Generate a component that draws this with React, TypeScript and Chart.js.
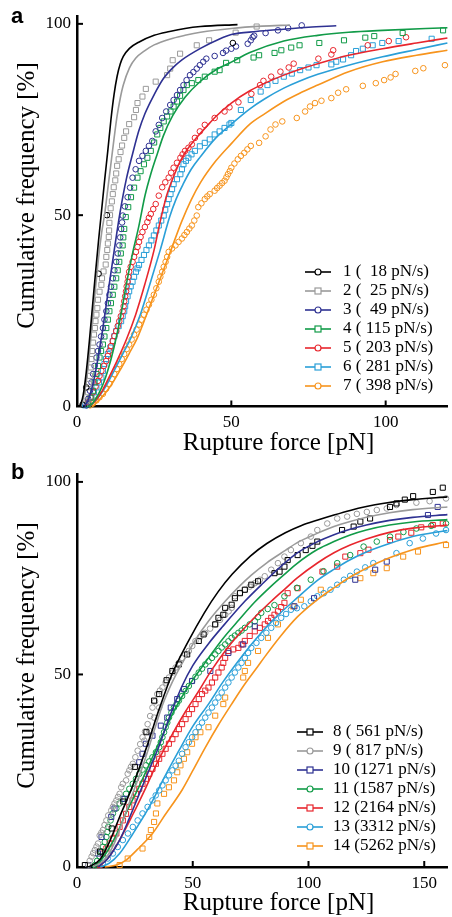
import React, { useEffect, useRef } from "react";
import { Chart, registerables } from "chart.js";

Chart.register(...registerables);

type Pair = [number, number];

// ---------- tick values ----------
const xTicksA = [0, 50, 100];
const xTicksB = [0, 50, 100, 150];
const yTicks = [0, 50, 100];

// ---------- legend labels ----------
const legendA = ["1 (  18 pN/s)", "2 (  25 pN/s)", "3 (  49 pN/s)", "4 ( 115 pN/s)", "5 ( 203 pN/s)", "6 ( 281 pN/s)", "7 ( 398 pN/s)"];
const legendB = ["8 ( 561 pN/s)", "9 ( 817 pN/s)", "10 (1271 pN/s)", "11 (1587 pN/s)", "12 (2164 pN/s)", "13 (3312 pN/s)", "14 (5262 pN/s)"];

// ---------- panel a : measured points [force pN, cumulative %] ----------
const a1Pts: Pair[] = [[1.8, 0.5], [3, 5], [7, 34.7], [9.7, 50], [50.5, 95]];
const a2Pts: Pair[] = [[3.4, 1.6], [3.6, 3.7], [3.8, 5.9], [4.2, 8], [4.5, 10.2], [4.7, 12.4], [4.9, 14.5], [5.2, 16.7], [5.5, 18.8], [5.8, 20.5], [6.0, 22.3], [6.3, 24], [6.6, 25.7], [6.8, 27.9], [7.3, 30], [7.9, 31.8], [8.1, 33.5], [8.6, 35.3], [9.3, 37.1], [9.5, 39.1], [9.8, 40.9], [10.0, 42.6], [10.3, 44.3], [10.4, 46], [10.5, 48], [10.7, 50], [10.9, 51.8], [11.3, 53.6], [11.6, 55.5], [11.9, 57.3], [12.4, 59.1], [12.7, 60.9], [13.0, 62.9], [13.5, 64.6], [14.1, 66.5], [14.6, 68.2], [15.3, 70.2], [15.9, 71.9], [16.9, 73.8], [18.5, 75.6], [19.1, 77.5], [19.6, 79.3], [21.2, 81], [22.3, 83], [25.5, 84.9], [29.2, 86.6], [30.2, 88.3], [31, 90.5], [33.4, 92.2], [38.8, 94.4], [42.8, 95.7], [51.4, 97.7], [58.2, 99.3]];
const a3Pts: Pair[] = [[3.1, 0.3], [3.6, 2], [4.2, 4.1], [4.7, 6.3], [5.2, 8.5], [5.7, 10.6], [6.3, 12.8], [6.8, 14.5], [7.3, 16.2], [7.8, 18.3], [8.4, 20.5], [8.9, 22.7], [9.5, 24.9], [10, 27], [10.5, 29.2], [11, 31.3], [11.6, 33.5], [12.1, 35.6], [12.7, 37.8], [13.2, 40], [13.7, 42.1], [14, 44.2], [14.3, 46.4], [14.6, 48.1], [14.8, 49.9], [15.5, 52.3], [16.4, 54.7], [17.2, 57.2], [18, 59.8], [19, 62], [20.1, 64.2], [21.2, 65.5], [22.3, 66.8], [23.3, 68.1], [24.4, 69.4], [25.5, 71.9], [26.5, 73.6], [27.6, 75.4], [28.9, 77.1], [30.2, 78.8], [31.3, 80.1], [32.4, 81.4], [33.4, 82.7], [34.5, 84], [35.5, 85.3], [36.6, 86.6], [37.7, 87.4], [38.8, 88.3], [39.8, 89.2], [40.9, 90.1], [41.9, 90.9], [44.6, 91.6], [47.3, 92.4], [48.3, 93], [50, 93.5], [51.5, 94.1], [55.3, 94.8], [56.3, 95.7], [56.9, 96.5], [57.4, 96.9], [61.1, 97.6], [65.1, 98.3], [68.4, 98.9], [72.8, 99.6]];
const a4Pts: Pair[] = [[3.6, 0.5], [4.4, 2.3], [5.2, 4.1], [5.7, 6.3], [6.3, 8.5], [6.8, 10.6], [7.3, 12.8], [7.8, 14.5], [8.4, 16.2], [8.9, 18.3], [9.5, 20.5], [10, 22.7], [10.5, 24.9], [11, 27], [11.6, 29.2], [12.1, 31.3], [12.7, 33.5], [13.2, 35.6], [13.7, 37.8], [14.2, 40], [14.8, 42.1], [15, 44.2], [15.3, 46.4], [15.8, 49.5], [16.6, 52.1], [17.5, 54.7], [18.5, 57.2], [19.6, 59.8], [20.6, 61.5], [21.7, 63.3], [22.8, 65], [23.9, 66.8], [25, 69], [26, 71.1], [27, 72.8], [28.1, 74.5], [29.2, 75.8], [30.3, 77.1], [31.3, 78.4], [32.4, 79.7], [33.4, 81.2], [34.5, 82.7], [35.6, 84], [37.2, 84.5], [39.3, 85.3], [41.4, 86.2], [44.6, 87.5], [46.2, 87.9], [48.3, 89.8], [51.9, 90.5], [57.2, 91.2], [59, 91.8], [64, 92.4], [66.2, 93.1], [69.4, 93.8], [72.1, 94.4], [78.5, 95], [86.5, 95.7], [93.4, 96.4], [96.3, 96.8], [105.5, 97.6], [118.6, 98.3]];
const a5Pts: Pair[] = [[3.6, 1.1], [4.4, 2.4], [5.2, 3.7], [6, 5.2], [6.8, 6.7], [7.3, 8], [7.9, 9.3], [8.7, 10.6], [9.5, 11.9], [10, 13.2], [10.5, 14.5], [11, 15.8], [11.6, 17.1], [12.1, 18.4], [12.7, 19.7], [13.2, 21], [13.7, 22.3], [14.2, 23.6], [14.8, 24.9], [15.1, 26.2], [15.3, 27.5], [15.6, 28.8], [15.9, 30.1], [16.1, 31.4], [16.4, 32.6], [16.6, 33.9], [16.9, 35.2], [17.4, 36.5], [18, 37.8], [18.5, 39.1], [19.1, 40.4], [19.6, 41.7], [20.1, 43], [20.6, 44.3], [21.2, 45.6], [22, 46.9], [22.8, 48.2], [23.3, 49.3], [23.9, 50.3], [24.7, 51.6], [25.5, 52.9], [26.5, 55.1], [27.6, 57.3], [28.6, 58.6], [29.7, 59.8], [30.5, 61.1], [31.3, 62.4], [32.4, 63.7], [33.5, 65], [34.2, 65.9], [35, 66.8], [36.1, 67.6], [37.2, 68.5], [38.2, 70.2], [39.8, 71.9], [41.4, 73.6], [44.6, 75.4], [47.8, 77.1], [49.4, 78.2], [52.3, 79.5], [56.5, 81.7], [59.3, 84], [60.4, 85.1], [62.9, 86.2], [65.9, 87.5], [68.6, 88.6], [70.2, 89.6], [78.2, 90.9], [82.4, 92], [83, 93.1], [94.2, 94.4], [101, 95.5], [106.6, 96.5]];
const a6Pts: Pair[] = [[2.6, 0.3], [3.6, 1.3], [4.7, 2.4], [5.5, 3.7], [6.3, 5], [7.1, 6.3], [7.9, 7.6], [8.4, 9.3], [8.9, 11.1], [9.4, 12.4], [10, 13.7], [10.8, 15.4], [11.6, 17.1], [12.1, 18.4], [12.7, 19.7], [13.5, 21], [14.3, 22.3], [14.8, 23.6], [15.3, 24.9], [15.6, 26.2], [15.9, 27.5], [16.4, 28.8], [16.9, 30.1], [17.4, 31.4], [18, 32.6], [18.5, 33.9], [19.1, 35.2], [19.6, 36.1], [20.1, 37], [20.9, 38.3], [21.7, 39.6], [22.5, 40.9], [23.3, 42.1], [24.1, 43.4], [24.9, 44.7], [25.7, 46], [26.5, 47.3], [27.3, 48.6], [28.1, 49.9], [28.6, 51.4], [29.2, 52.9], [29.7, 54.2], [30.3, 55.5], [30.8, 56.8], [31.3, 58.1], [32.4, 59.4], [33.5, 60.7], [34, 62], [34.5, 63.3], [35.3, 64.2], [36.1, 65], [37.1, 65.9], [38.2, 66.8], [39.8, 68], [41.4, 68.9], [43, 69.8], [44.6, 71.1], [46.2, 71.9], [47.8, 72.8], [49.4, 73.7], [50, 74.1], [53.1, 77.5], [56.3, 80.1], [59.5, 82.3], [61.7, 84], [64.3, 85.1], [67, 86.2], [69.6, 87], [72.3, 87.9], [75, 88.6], [77.6, 89.2], [82.4, 89.4], [84, 90.1], [86.2, 90.7], [88.8, 91.8], [90.4, 92.9], [92.6, 93.5], [95.8, 94.4], [98.9, 95], [104.2, 95.5], [114.9, 96.1]];
const a7Pts: Pair[] = [[4.2, 0.3], [5.2, 0.8], [6.3, 1.6], [7.3, 2.4], [8.4, 3.3], [9.4, 4.6], [10.5, 5.9], [11.3, 7.2], [12.1, 8.5], [12.9, 9.8], [13.7, 11.1], [14.5, 12.4], [15.3, 13.7], [16.1, 15], [16.9, 16.2], [17.7, 17.5], [18.5, 18.8], [19.3, 20.1], [20.1, 21.4], [20.9, 22.7], [21.7, 24], [22.5, 25.3], [23.3, 26.6], [24.1, 27.9], [24.9, 29.2], [25.7, 30.9], [26.5, 32.6], [27, 33.9], [27.6, 35.2], [28.1, 36.5], [28.7, 37.8], [29.2, 39.1], [29.7, 40.4], [30.8, 41.3], [31.9, 42.1], [32.9, 43], [34, 43.9], [34.8, 44.8], [35.6, 45.6], [36.4, 46.5], [37.2, 47.3], [38, 48.6], [38.8, 49.9], [39.3, 52.1], [40.3, 53.1], [41.4, 54.2], [42.2, 54.9], [43, 55.5], [44.6, 56.4], [45.4, 57.1], [46.2, 57.7], [47, 58.4], [47.8, 59], [48.4, 59.9], [48.9, 60.7], [49.5, 61.5], [50, 62.4], [51, 63.5], [52.1, 64.6], [53.1, 65.5], [54.2, 66.3], [55.2, 67.2], [56.3, 68.1], [59, 68.9], [61.1, 70.6], [62.7, 72.4], [64.3, 73.7], [66.5, 74.5], [71.2, 75.4], [73.9, 77.1], [75.5, 78.4], [77.1, 79.3], [79.2, 79.9], [82.4, 80.6], [84.6, 82], [87.2, 82.9], [92.6, 83.8], [96.8, 84.5], [99.5, 85.3], [101.6, 86], [103.2, 86.9], [109.6, 87.7], [112.2, 88.4], [119.2, 89.2]];

// ---------- panel a : fitted curves ----------
const a1Fit: Pair[] = [[1, 0], [2, 3], [3, 9], [4, 17], [5, 26], [6, 35], [7, 43.5], [8, 51.5], [9, 59.5], [10, 67], [11, 75], [12, 81.5], [13, 86.3], [14, 89.5], [15, 91.5], [17, 93.6], [20, 95.2], [25, 97], [30, 98], [35, 98.8], [40, 99.3], [52, 99.8]];
const a2Fit: Pair[] = [[1.2, 0], [2, 2], [3, 6.5], [4, 13.5], [5, 22.5], [6, 31], [7, 39], [8, 45.5], [9, 50.5], [10, 57], [11, 63.5], [12, 70], [13, 76], [14, 80.5], [15, 84], [17, 88.5], [19, 91], [22, 93], [25, 94.5], [30, 96], [35, 97], [40, 97.8], [50, 98.8], [60, 99.4], [69, 99.7]];
const a3Fit: Pair[] = [[2.5, 0], [4, 2.5], [6, 9], [8, 18.5], [10, 29.5], [12, 40.5], [14, 51], [16, 59.5], [18, 66], [20, 72], [22, 76.5], [25, 81.5], [28, 85.7], [31, 88.5], [34, 90.6], [40, 93.6], [46, 96], [50, 97.2], [58, 98], [67, 98.6], [75, 99.1], [84, 99.5]];
const a4Fit: Pair[] = [[3.5, 0], [5, 0.8], [8, 5], [10, 9.5], [12, 15.5], [14, 23], [16, 32], [18, 40], [20, 47], [22, 55], [24, 61], [26, 66], [28, 70.8], [31, 76], [35, 80.8], [40, 85], [45, 88], [50, 90], [56, 92.5], [67, 95.5], [78, 97], [88, 97.8], [99, 98.3], [120, 99]];
const a5Fit: Pair[] = [[4, 0], [6, 1.5], [8, 3.8], [10, 7], [13, 12], [16, 17.5], [19, 24], [22, 32], [25, 41], [27, 48.5], [29, 55], [31, 59.5], [33.5, 64.2], [36, 67.5], [39, 70.5], [42, 73.2], [45, 75.8], [50, 79.3], [56, 82.5], [62, 84.9], [67, 86.6], [72, 88.1], [78, 89.6], [88, 91.8], [99, 93.5], [110, 95], [120, 96.3]];
const a6Fit: Pair[] = [[4, 0], [6, 1.5], [9, 4.8], [12, 9.3], [15, 14], [17.5, 18], [20.5, 24], [24, 33], [27, 41], [30, 49.5], [32, 54], [34.5, 58.3], [37, 62], [40, 65.3], [45, 70.2], [50, 73.8], [56, 77.8], [61, 80.5], [67, 83.2], [72, 85], [78, 86.8], [88, 89.2], [99, 91.4], [110, 93.3], [120, 95]];
const a7Fit: Pair[] = [[5, 0], [8, 2.4], [11, 5.5], [14.3, 10], [17, 14], [19.6, 18], [23, 25], [27, 33.5], [30.5, 41], [34, 48.5], [37, 54], [40, 58.5], [45, 64.2], [50, 68.7], [56, 73.8], [61, 76.6], [67, 79.7], [72, 81.8], [78, 84], [88, 87.5], [99, 90.1], [110, 91.8], [120, 93.1]];

// ---------- panel b : measured points ----------
const b8Pts: Pair[] = [[3.4, 0.5], [10, 4], [15, 10], [20, 17], [25, 26], [30, 35], [33.3, 43.2], [35.5, 44.9], [38.7, 48.5], [41.2, 50.9], [44, 52.6], [47.6, 55.2], [52.6, 58.7], [54.7, 60.4], [59.7, 63], [61.1, 64.7], [63.2, 65.5], [64, 67.3], [66.8, 68.1], [68.2, 69.8], [70.4, 71.1], [72.5, 72], [75.3, 73.3], [78.2, 74.2], [85.3, 76.3], [87.5, 76.7], [89.6, 78], [91, 79.7], [95.3, 81], [98.8, 82.3], [101.7, 83.4], [103.8, 84.5], [114.5, 87.5], [119.5, 88.4], [122.4, 89.7], [126.6, 90.5], [135.2, 93.5], [138, 94.4], [141.6, 95.4], [145.2, 96.3], [153.7, 97.4], [158, 98.5]];
const b9Pts: Pair[] = [[4.8, 0.5], [5.5, 1.6], [6.3, 2.7], [7, 3.6], [7.7, 4.4], [8.4, 5.3], [9.1, 6.1], [9.8, 8.2], [10.5, 8.9], [11.2, 9.6], [11.9, 10.9], [12.7, 12.1], [13.5, 13.4], [14.8, 14.7], [15.5, 15.6], [16.2, 16.5], [17, 17.3], [17.7, 18.2], [18.4, 19], [19.1, 20.7], [19.8, 21.6], [21.2, 22.5], [21.9, 24.2], [22.6, 25.1], [23.3, 26], [24.1, 26.8], [25.2, 28.5], [26.2, 30.2], [27.3, 31.9], [28.3, 33.7], [29.1, 32.8], [29.4, 35.2], [30.5, 37.1], [31.2, 35.4], [31.6, 39.2], [32.6, 41.4], [33.3, 38.8], [33.7, 43], [34.7, 44.9], [35.5, 41.4], [35.8, 45.8], [36.9, 46.6], [38.3, 47.9], [39.7, 49.2], [41.2, 50.5], [42.6, 51.8], [44, 53], [45.4, 54.3], [46.8, 55.2], [48.3, 56.1], [49.8, 57.4], [51.2, 58.7], [53.3, 59.8], [55.4, 60.8], [57.5, 61.9], [59.7, 63], [61.8, 64.2], [64, 65.5], [65.5, 66.4], [66.8, 67.3], [68.2, 70.3], [70.4, 71.2], [72.5, 72], [74.6, 72.8], [76.8, 73.7], [79, 74.6], [81.1, 75.5], [83.9, 77.2], [86.8, 78.9], [89.6, 80.6], [92.4, 82.3], [96.7, 84.1], [101, 85.8], [103.8, 87.5], [108.1, 89.2], [112.4, 90.5], [116.7, 91], [120.9, 91.7], [125.2, 92.2], [129.5, 92.7], [133.8, 93.1], [138, 94], [146.6, 94.6], [152.3, 95], [159.4, 95.7]];
const b10Pts: Pair[] = [[4.8, 0.5], [9.1, 3.5], [10.6, 7.8], [14.8, 13], [16.2, 15.2], [20.5, 17.7], [26.9, 27.2], [28.3, 29.4], [29.8, 32], [32.6, 34.1], [36.2, 36.7], [39, 38.8], [40.5, 41.4], [43.3, 43.6], [46.2, 46.2], [49.7, 48.3], [57.6, 50.9], [65.4, 55.6], [71.8, 57.8], [76.8, 62.5], [93.9, 67.7], [102.4, 69.8], [120.2, 74.6], [128.8, 77.2], [133.8, 79.3], [151.6, 91.4], [155.8, 93.5]];
const b11Pts: Pair[] = [[7.7, 0.5], [8.7, 1.6], [9.8, 2.7], [10.5, 4], [11.2, 5.2], [12, 6.5], [12.7, 7.8], [13.1, 9.1], [13.5, 10.4], [14.5, 12.1], [15.5, 13.9], [17, 15.2], [18.4, 16.5], [19.8, 17.7], [21.2, 19], [22.6, 20.3], [24.1, 21.6], [25.5, 22.9], [26.9, 24.2], [28.3, 25.3], [29.8, 26.4], [31.2, 27.4], [32.6, 28.5], [34.1, 29.8], [35.5, 31.1], [36.2, 32.4], [36.9, 33.7], [37.6, 35], [38.3, 36.3], [39, 37.5], [39.7, 38.8], [40.8, 40.1], [41.9, 41.4], [43, 42.3], [44, 43.2], [45.4, 44.4], [46.9, 45.7], [48.3, 47], [49.7, 48.3], [51.2, 49.4], [52.6, 50.5], [54, 51.5], [55.4, 52.6], [56.8, 53.4], [58.3, 54.3], [59.7, 55.2], [61.1, 56.1], [62.5, 57], [64, 57.8], [65.4, 58.6], [66.8, 59.5], [68.2, 60.1], [69.7, 60.8], [71.1, 61.4], [72.5, 62.1], [74.6, 63], [76.8, 63.8], [78.2, 64.9], [79.6, 66], [82.4, 67], [85.3, 68], [89.6, 70.3], [95, 72.5], [101, 74.6], [106.5, 76.8], [112.4, 78.9], [118, 81], [123.8, 83.2], [129.5, 84.5], [135.2, 85.8], [141, 87], [146.6, 87.9], [153, 88.6], [159.4, 89.2]];
const b12Pts: Pair[] = [[9.8, 0.5], [11.2, 3.5], [12.7, 4.8], [14.1, 6.1], [15.5, 7.4], [17, 8.7], [18.4, 10.4], [19.8, 12.1], [21.2, 13.8], [22.6, 15.6], [24, 17.3], [25.5, 19], [26.9, 20.3], [28.3, 21.6], [29.8, 22.9], [31.2, 24.2], [32.6, 25.5], [34.1, 26.8], [35.5, 28.1], [36.9, 29.4], [38.3, 30.7], [39.7, 32], [41.2, 33.2], [42.6, 34.5], [44, 35.8], [45.4, 37.1], [46.9, 38.4], [48.3, 39.7], [49.7, 41], [51.2, 42.3], [52.6, 43.6], [54, 44.9], [55.4, 45.8], [56.8, 46.6], [58.3, 47.9], [59.7, 49.2], [61.1, 50.5], [62.5, 51.8], [63.2, 53], [64, 54.3], [65.4, 56.1], [67.5, 56.5], [69.7, 56.9], [71.1, 57.8], [72.5, 58.7], [74.6, 60], [76.8, 61.2], [79, 62.1], [81.1, 63], [82.5, 63.9], [83.9, 64.7], [85.3, 65.5], [86.8, 66.4], [88.2, 67.5], [89.6, 68.6], [91, 71.1], [95.3, 72.4], [106, 76.7], [112.4, 78], [115.9, 80.6], [122.4, 81.5], [125.9, 82.4], [135.2, 84.9], [138.8, 85.8], [144.4, 86.8], [148.7, 88.2], [153.7, 88.8], [158, 89.2]];
const b13Pts: Pair[] = [[11.2, 1], [13.3, 2.2], [15.5, 3.5], [17.6, 5.2], [19.8, 7], [22, 8.7], [24.1, 10.4], [26.2, 12.1], [28.3, 13.9], [30.5, 15.6], [32.6, 17.3], [34, 18.6], [35.5, 19.9], [36.9, 21.2], [38.3, 22.5], [39.7, 23.8], [41.2, 25.1], [42.6, 26.3], [44, 27.6], [45.4, 29.4], [46.9, 31.1], [48.3, 32.4], [49.7, 33.7], [51.2, 35], [52.6, 36.3], [54, 37.5], [55.4, 38.8], [56.8, 40.1], [58.3, 41.4], [59.7, 42.7], [61.1, 44], [62.5, 45.3], [64, 46.6], [65.4, 47.9], [66.8, 49.2], [68.2, 50.5], [69.7, 51.8], [71.1, 53], [72.5, 54.3], [73.9, 55.6], [75.3, 56.9], [77.5, 58.2], [79.6, 59.5], [81.8, 60.8], [83.9, 62.1], [86, 63.4], [88.2, 64.7], [90.3, 65.7], [92.4, 66.8], [95, 67.2], [98.2, 67.7], [101, 69], [103.8, 70.3], [106.6, 71.1], [109.5, 72], [112.4, 73.3], [115.3, 74.6], [118, 75.6], [120.9, 76.7], [124.5, 77.8], [128, 78.9], [138, 81.5], [143.7, 84.1], [149.4, 85.3], [155.1, 86.6], [159.4, 87.5]];
const b14Pts: Pair[] = [[18.4, 0.5], [21.9, 2.2], [28.3, 4.8], [31.2, 7.8], [31.9, 9.6], [33.3, 11.7], [34.1, 13.9], [34.7, 16.5], [37.6, 19], [39.7, 20.7], [41.9, 22.5], [43.3, 24.6], [44.7, 26.4], [46.2, 28.1], [47.6, 29.8], [49.7, 32], [51.2, 33.7], [53.3, 35], [56.8, 36.3], [59.7, 39.3], [63.2, 42.3], [64, 44], [71.8, 49.2], [72.5, 50.9], [73.9, 53], [78.2, 56.1], [82.5, 59.5], [86.8, 63], [93.2, 67.7], [96.7, 69.4], [105.3, 72], [122.4, 75], [128, 76.3], [133.8, 77.6], [140.9, 80.6], [147.3, 81.9], [159.4, 83.6]];

// ---------- panel b : fitted curves ----------
const b8Fit: Pair[] = [[5, 0], [10, 2], [14, 6.5], [18.4, 13], [24, 21], [30, 31], [35.5, 41], [41, 50], [48, 58.5], [55, 66], [61, 71.5], [67, 76], [75, 80.8], [82, 84], [90, 86.8], [97, 88.7], [104, 90.1], [111, 91.4], [118, 92.6], [125, 93.6], [132, 94.4], [145, 95.4], [160, 96.1]];
const b9Fit: Pair[] = [[7, 0], [12, 2], [16, 6], [19.8, 12], [24, 19], [28.3, 26], [32.6, 34], [36.9, 42], [41, 47.8], [46, 53.5], [51.2, 59], [57, 64], [64, 69], [70, 72.8], [75.3, 75.8], [82, 79], [90, 82.2], [95.3, 84.3], [104, 86.7], [111, 88.4], [118, 89.7], [125, 90.8], [135, 92], [145, 92.8], [160, 93.5]];
const b10Fit: Pair[] = [[9, 0], [13, 2], [18.4, 7], [22.5, 12.5], [26.9, 19], [31, 25], [35.5, 31.5], [40, 39], [45.4, 47], [50, 52.3], [56.8, 58], [63, 62.5], [72.5, 69], [80, 73.5], [88, 78], [95, 81.5], [104, 84.5], [111, 86.3], [118, 87.7], [125, 88.8], [135, 90], [145, 90.8], [160, 91.5]];
const b11Fit: Pair[] = [[7, 0], [10, 1.5], [14, 5], [17.5, 9], [21, 13.8], [26.5, 20.5], [32.6, 28.5], [37.5, 35], [42.6, 41.3], [48, 46.8], [56.8, 54.3], [63, 59.3], [70, 64.2], [76.8, 68.8], [84, 73], [90, 76.2], [95, 78.8], [104, 82.5], [111, 84.5], [118, 86.2], [125, 87.5], [135, 88.8], [145, 89.6], [160, 90.2]];
const b12Fit: Pair[] = [[9, 0], [13, 2], [18.4, 7], [24, 13.5], [29.8, 20.7], [35, 27.5], [41.2, 34.5], [47, 40.5], [52.6, 45.7], [58, 51], [64, 56.1], [70, 60.5], [77, 65], [83.9, 69], [90, 72.3], [95, 75], [104, 79], [111, 81.6], [118, 83.6], [125, 85.2], [135, 86.9], [145, 88], [160, 88.8]];
const b13Fit: Pair[] = [[10, 0], [14, 1], [18.4, 3.5], [24, 8.5], [31.2, 15.6], [37.5, 23], [44, 30.2], [50, 36.5], [56.8, 42.3], [63, 48], [69.7, 53.5], [77, 59], [85, 64.3], [95.3, 70], [104, 74.5], [111, 77.3], [118, 79.8], [125, 81.8], [135, 84], [145, 85.8], [160, 87.4]];
const b14Fit: Pair[] = [[12, 0], [17, 0.5], [21.2, 1.8], [26, 4.5], [32.6, 8.7], [38, 13.5], [45.4, 20], [50, 25], [55.4, 31], [61, 36.8], [66.8, 42.3], [72.5, 47.5], [78, 52], [81, 54.5], [88, 60], [95.3, 65], [104, 69.5], [111, 72.5], [118, 75.3], [125, 77.6], [135, 80.3], [145, 82.4], [160, 84.5]];

// ---------- styling ----------
const SERIF = '"Liberation Serif", "Times New Roman", Times, serif';
const SANS = '"Liberation Sans", Arial, Helvetica, sans-serif';
const COLORS = ["#000000", "#9a9a9a", "#2e3192", "#119b48", "#e8262d", "#2a9fd8", "#f7941d"];

type Marker = "circle" | "rect";
interface Series { pts: Pair[]; fit: Pair[]; color: string; marker: Marker; label: string; }

const seriesA: Series[] = [
  { pts: a1Pts, fit: a1Fit, color: COLORS[0], marker: "circle", label: legendA[0] },
  { pts: a2Pts, fit: a2Fit, color: COLORS[1], marker: "rect", label: legendA[1] },
  { pts: a3Pts, fit: a3Fit, color: COLORS[2], marker: "circle", label: legendA[2] },
  { pts: a4Pts, fit: a4Fit, color: COLORS[3], marker: "rect", label: legendA[3] },
  { pts: a5Pts, fit: a5Fit, color: COLORS[4], marker: "circle", label: legendA[4] },
  { pts: a6Pts, fit: a6Fit, color: COLORS[5], marker: "rect", label: legendA[5] },
  { pts: a7Pts, fit: a7Fit, color: COLORS[6], marker: "circle", label: legendA[6] },
];
const seriesB: Series[] = [
  { pts: b8Pts, fit: b8Fit, color: COLORS[0], marker: "rect", label: legendB[0] },
  { pts: b9Pts, fit: b9Fit, color: COLORS[1], marker: "circle", label: legendB[1] },
  { pts: b10Pts, fit: b10Fit, color: COLORS[2], marker: "rect", label: legendB[2] },
  { pts: b11Pts, fit: b11Fit, color: COLORS[3], marker: "circle", label: legendB[3] },
  { pts: b12Pts, fit: b12Fit, color: COLORS[4], marker: "rect", label: legendB[4] },
  { pts: b13Pts, fit: b13Fit, color: COLORS[5], marker: "circle", label: legendB[5] },
  { pts: b14Pts, fit: b14Fit, color: COLORS[6], marker: "rect", label: legendB[6] },
];

const inwardTicks = {
  id: "inwardTicks",
  afterDraw(chart: any) {
    const { ctx, chartArea, scales } = chart;
    const x = scales.x;
    const y = scales.y;
    ctx.save();
    ctx.strokeStyle = "#000";
    ctx.lineWidth = 2;
    for (const t of x.ticks) {
      if (t.value === 0) continue;
      const px = x.getPixelForValue(t.value);
      ctx.beginPath();
      ctx.moveTo(px, chartArea.bottom);
      ctx.lineTo(px, chartArea.bottom - 6);
      ctx.stroke();
    }
    for (const t of y.ticks) {
      if (t.value === 0) continue;
      const py = y.getPixelForValue(t.value);
      ctx.beginPath();
      ctx.moveTo(chartArea.left, py);
      ctx.lineTo(chartArea.left + 6, py);
      ctx.stroke();
    }
    ctx.restore();
  },
};

interface PanelProps {
  top: number;
  height: number;
  series: Series[];
  xMax: number;
  xTicks: number[];
  padTop: number;
  axisH: number;
}

function PanelChart({ top, height, series, xMax, xTicks, padTop, axisH }: PanelProps) {
  const ref = useRef<HTMLCanvasElement>(null);
  useEffect(() => {
    const datasets: any[] = [];
    series.forEach((s) => {
      datasets.push({
        type: "line",
        data: s.fit.map(([x, y]) => ({ x, y })),
        borderColor: s.color,
        borderWidth: 1.6,
        pointRadius: 0,
        pointHoverRadius: 0,
        cubicInterpolationMode: "monotone",
        fill: false,
        order: 0,
        clip: false,
      });
    });
    series.forEach((s) => {
      datasets.push({
        type: "scatter",
        data: s.pts.map(([x, y]) => ({ x, y })),
        borderColor: s.color,
        backgroundColor: "rgba(0,0,0,0)",
        pointStyle: s.marker,
        pointRadius: s.marker === "rect" ? 3.6 : 2.8,
        pointBorderWidth: 1,
        pointHoverRadius: 0,
        showLine: false,
        order: 1,
        clip: false,
      });
    });
    const tickFont = { family: SERIF, size: 17 };
    const chart = new Chart(ref.current as HTMLCanvasElement, {
      type: "scatter",
      data: { datasets },
      options: {
        animation: false,
        responsive: false,
        events: [],
        layout: { padding: { top: padTop, left: 0, right: 0, bottom: 0 } },
        plugins: { legend: { display: false }, tooltip: { enabled: false } },
        scales: {
          x: {
            type: "linear",
            position: "bottom",
            min: 0,
            max: xMax,
            grid: { display: false, drawTicks: false },
            border: { display: true, color: "#000", width: 2.5 },
            ticks: { color: "#000", font: tickFont, padding: 6, maxRotation: 0, autoSkip: false },
            afterBuildTicks: (s: any) => {
              s.ticks = xTicks.map((v) => ({ value: v }));
            },
            afterFit: (s: any) => {
              s.height = axisH;
            },
          },
          y: {
            type: "linear",
            position: "left",
            min: 0,
            max: 102,
            grid: { display: false, drawTicks: false },
            border: { display: true, color: "#000", width: 2.5 },
            ticks: { color: "#000", font: tickFont, padding: 6, autoSkip: false },
            afterBuildTicks: (s: any) => {
              s.ticks = yTicks.map((v) => ({ value: v }));
            },
            afterFit: (s: any) => {
              s.width = 77;
            },
          },
        },
      } as any,
      plugins: [inwardTicks],
    });
    return () => chart.destroy();
  }, []);
  return (
    <canvas
      ref={ref}
      width={452}
      height={height}
      style={{ position: "absolute", left: 0, top, width: 452, height, display: "block" }}
    />
  );
}

function Legend({ series, top0, lineX, textX }: { series: Series[]; top0: number; lineX: number; textX: number }) {
  return (
    <>
      {series.map((s, i) => {
        const cy = top0 + 19 * i;
        return (
          <React.Fragment key={i}>
            <svg
              width={26}
              height={12}
              style={{ position: "absolute", left: lineX, top: cy - 6, overflow: "visible" }}
            >
              <line x1={0} y1={6} x2={26} y2={6} stroke={s.color} strokeWidth={1.6} />
              {s.marker === "circle" ? (
                <circle cx={13} cy={6} r={3} fill="#fff" stroke={s.color} strokeWidth={1.2} />
              ) : (
                <rect x={10} y={3} width={6} height={6} fill="#fff" stroke={s.color} strokeWidth={1.2} />
              )}
            </svg>
            <div
              style={{
                position: "absolute",
                left: textX,
                top: cy - 10.25,
                fontFamily: SERIF,
                fontSize: 17,
                lineHeight: "19px",
                whiteSpace: "pre",
                color: "#000",
              }}
            >
              {s.label}
            </div>
          </React.Fragment>
        );
      })}
    </>
  );
}

function YTitle({ cy }: { cy: number }) {
  return (
    <div
      style={{
        position: "absolute",
        left: 24.6 - 160,
        top: cy - 12.5,
        width: 320,
        height: 25,
        lineHeight: "25px",
        fontFamily: SERIF,
        fontSize: 25,
        textAlign: "center",
        whiteSpace: "nowrap",
        transform: "rotate(-90deg)",
        color: "#000",
      }}
    >
      Cumulative frequency [%]
    </div>
  );
}

function XTitle({ top }: { top: number }) {
  return (
    <div
      style={{
        position: "absolute",
        left: 278.5 - 150,
        top,
        width: 300,
        lineHeight: "25px",
        fontFamily: SERIF,
        fontSize: 25,
        textAlign: "center",
        whiteSpace: "nowrap",
        color: "#000",
      }}
    >
      Rupture force [pN]
    </div>
  );
}

function Letter({ text, top }: { text: string; top: number }) {
  return (
    <div
      style={{
        position: "absolute",
        left: 11,
        top,
        fontFamily: SANS,
        fontWeight: "bold",
        fontSize: 22,
        lineHeight: "22px",
        color: "#000",
      }}
    >
      {text}
    </div>
  );
}

export default function App() {
  return (
    <div style={{ position: "relative", width: 452, height: 917, overflow: "hidden", background: "#fff" }}>
      <style>{"body{margin:0;background:#fff}"}</style>
      <PanelChart top={0} height={458} series={seriesA} xMax={120} xTicks={xTicksA} padTop={12.3} axisH={51.5} />
      <PanelChart top={458} height={459} series={seriesB} xMax={160} xTicks={xTicksB} padTop={14.3} axisH={50} />
      <Letter text="a" top={4.7} />
      <Letter text="b" top={461.4} />
      <YTitle cy={195} />
      <YTitle cy={655} />
      <XTitle top={429} />
      <XTitle top={889} />
      <Legend series={seriesA} top0={271.7} lineX={305} textX={343} />
      <Legend series={seriesB} top0={731.7} lineX={297} textX={333} />
    </div>
  );
}
